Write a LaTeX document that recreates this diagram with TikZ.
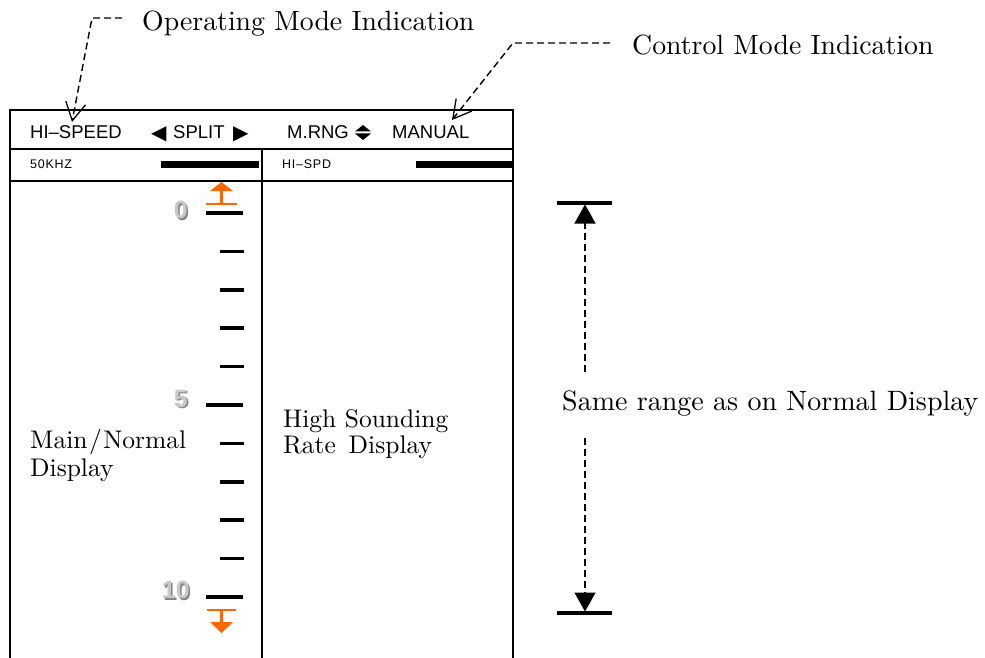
\documentclass[tikz,border=0pt]{standalone}
\usepackage{fontspec}
\newfontfamily\hdrfont{Liberation Sans}
\newfontfamily\symfont{DejaVu Sans}
\newfontfamily\lmten{lmroman10-regular.otf}
\newfontfamily\smallfont{Liberation Sans}[LetterSpace=6]
\usetikzlibrary{arrows.meta}
\definecolor{mkorange}{RGB}{255,102,0}
\definecolor{digback}{RGB}{130,130,130}
\definecolor{digfront}{RGB}{200,200,200}
\tikzset{
 frame/.style={line width=2pt},
 lbl/.style={inner sep=0pt, anchor=base west, font=\lmten\fontsize{27.8}{28}\selectfont},
 dimlbl/.style={inner sep=0pt, anchor=base west, font=\lmten\fontsize{28}{28}\selectfont},
 inlbl/.style={inner sep=0pt, anchor=base west, font=\lmten\fontsize{25.5}{28}\selectfont},
 hdr/.style={inner sep=0pt, anchor=base west, font=\hdrfont\fontsize{18.5}{20}\selectfont},
 hdrsym/.style={inner sep=0pt, anchor=base west, font=\symfont\fontsize{20}{20}\selectfont},
 smalltxt/.style={inner sep=0pt, anchor=base west, font=\smallfont\fontsize{12.5}{14}\selectfont},
 levelbar/.style={line width=7pt},
 tickline/.style={line width=3.5pt},
 leader/.style={dash pattern=on 7pt off 4pt, line width=1.4pt},
 openhead/.style={-{Straight Barb[length=18pt,width=20pt,line width=1.3pt]}},
 dimhead/.style={-{Triangle[length=19pt,width=21pt]}},
 orangemark/.style={draw=mkorange, line width=2.5pt},
 digback/.style={inner sep=0pt, anchor=east, text=digback, font=\hdrfont\bfseries\fontsize{25}{25}\selectfont},
 digfront/.style={inner sep=0pt, anchor=east, text=digfront, font=\hdrfont\bfseries\fontsize{25}{25}\selectfont},
}
\begin{document}
\begin{tikzpicture}[x=1pt,y=-1pt]
\useasboundingbox (0,0) rectangle (985,658);
\fill[white] (0,0) rectangle (985,658);

% frame
\draw[frame] (10,658) -- (10,110) -- (513,110) -- (513,658);
\draw[frame] (10,149) -- (513,149);
\draw[frame] (10,181) -- (513,181);
\draw[frame] (262,149) -- (262,658);

% header texts
\node[hdr] (hispeed) at (30,139) {HI–SPEED};
\node[hdrsym] (lefttri) at (151,139.5) {◀};
\node[hdr] (split) at (173,139) {SPLIT};
\node[hdrsym] (righttri) at (233,139.5) {▶};
\node[hdr] (mrng) at (287,139) {M.RNG};
\fill (355,131.5) -- (371,131.5) -- (363,125) -- cycle;
\fill (355,133.5) -- (371,133.5) -- (363,140) -- cycle;
\node[hdr] (manual) at (392,139) {MANUAL};

% second row
\node[smalltxt] (khz) at (30,168) {50KHZ};
\draw[levelbar] (161,164.5) -- (259,164.5);
\node[smalltxt] (hispd) at (282,168) {HI–SPD};
\draw[levelbar] (416,164.5) -- (513,164.5);

% scale ticks
\foreach \i in {0,...,10} {
  \pgfmathsetmacro{\ty}{213+38.4*\i}
  \ifnum\i=0 \draw[tickline] (206,\ty) -- (243,\ty);
  \else\ifnum\i=5 \draw[tickline] (206,\ty) -- (243,\ty);
  \else\ifnum\i=10 \draw[tickline] (206,\ty) -- (243,\ty);
  \else \draw[tickline] (220,\ty) -- (244,\ty);
  \fi\fi\fi
}

% digits
\node[digback] (d0s) at (189.5,211.5) {0};
\node[digfront] (d0) at (188,210) {0};
\node[digback] (d5s) at (189.5,400.5) {5};
\node[digfront] (d5) at (188,399) {5};
\node[digback] (d10s) at (191.5,591.5) {10};
\node[digfront] (d10) at (190,590) {10};

% orange range marks
\draw[orangemark] (206,204) -- (237,204);
\draw[orangemark] (221.5,204) -- (221.5,190);
\fill[mkorange] (210,191) -- (233,191) -- (221.5,182) -- cycle;
\draw[orangemark] (207,610) -- (236,610);
\draw[orangemark] (221.5,610) -- (221.5,622);
\fill[mkorange] (210,622) -- (233,622) -- (221.5,633) -- cycle;

% inner labels
\node[inlbl] (main1) at (30,448) {Main\kern1.5pt/\kern1.5pt Normal};
\node[inlbl] (main2) at (30,476) {Display};
\node[inlbl] (high1) at (283,427) {High Sounding};
\node[inlbl] (high2) at (283,453) {Rate\enspace Display};

% top labels with leaders
\node[lbl] (opmode) at (142,31) {Operating Mode Indication};
\coordinate (opstart) at (122,18);
\coordinate (opbend) at (92,18);
\coordinate (optip) at (72,122);
\draw[leader, openhead] (opstart) -- (opbend) -- (optip);

\node[lbl] (ctlmode) at (632,55) {Control Mode Indication};
\coordinate (ctlstart) at (610,43);
\coordinate (ctlbend) at (513,43);
\coordinate (ctltip) at (452,120);
\draw[leader, openhead] (ctlstart) -- (ctlbend) -- (ctltip);

% dimension on the right
\draw[tickline] (557,203) -- (612,203);
\draw[tickline] (557,613) -- (612,613);
\node[dimlbl] (same) at (562,410) {Same range as on Normal Display};
\coordinate (dtop) at (585,204.5);
\coordinate (dbot) at (585,611.5);
\coordinate (dup) at (585,372);
\coordinate (ddown) at (585,438);
\draw[leader, dimhead] (dup) -- (dtop);
\draw[leader, dimhead] (ddown) -- (dbot);
\end{tikzpicture}
\end{document}
